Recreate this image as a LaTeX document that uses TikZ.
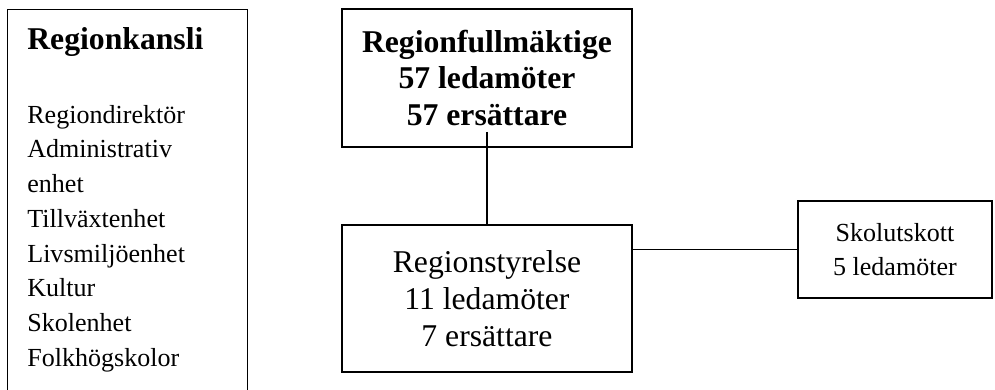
\documentclass[tikz,border=0pt]{standalone}
\usepackage{fontspec}
\setmainfont{Liberation Serif}
\begin{document}
\begin{tikzpicture}[x=1pt,y=-1pt,
    box/.style={draw,line width=0.7pt,inner sep=0pt,align=center},
    big/.style={font=\fontsize{14.6}{17}\selectfont},
    bigbold/.style={font=\bfseries\fontsize{14.6}{17}\selectfont},
    small/.style={font=\fontsize{12}{15.3}\selectfont}]
  \useasboundingbox (0,0) rectangle (458.5,179.3);
  \node[box,anchor=north west,minimum width=110.6pt,minimum height=190pt] (kansli) at (3.2,4.1) {};
  \node[bigbold,anchor=base west,inner sep=0pt] (kanslititle) at (12.4,23) {Regionkansli};
  \node[anchor=base west,align=left,inner sep=0pt,font=\fontsize{12}{16}\selectfont] (kanslilist) at (12.4,168.8)
    {Regiondirektör\\Administrativ\\enhet\\Tillväxtenhet\\Livsmiljöenhet\\Kultur\\Skolenhet\\Folkhögskolor};
  \node[box,bigbold,minimum width=133.6pt,minimum height=63.6pt] (fullm) at (224.4,35.9)
    {Regionfullmäktige\\57 ledamöter\\57 ersättare};
  \node[box,big,minimum width=133.6pt,minimum height=67.7pt] (styrelse) at (224.4,137.6)
    {Regionstyrelse\\11 ledamöter\\7 ersättare};
  \node[box,small,minimum width=89.4pt,minimum height=44.7pt] (skol) at (412.4,115.0)
    {Skolutskott\\5 ledamöter};
  \draw[line width=0.7pt] ([yshift=7.3pt]fullm.south) -- (styrelse.north);
  \draw[line width=0.7pt] (skol.west -| styrelse.east) -- (skol.west);
\end{tikzpicture}
\end{document}
